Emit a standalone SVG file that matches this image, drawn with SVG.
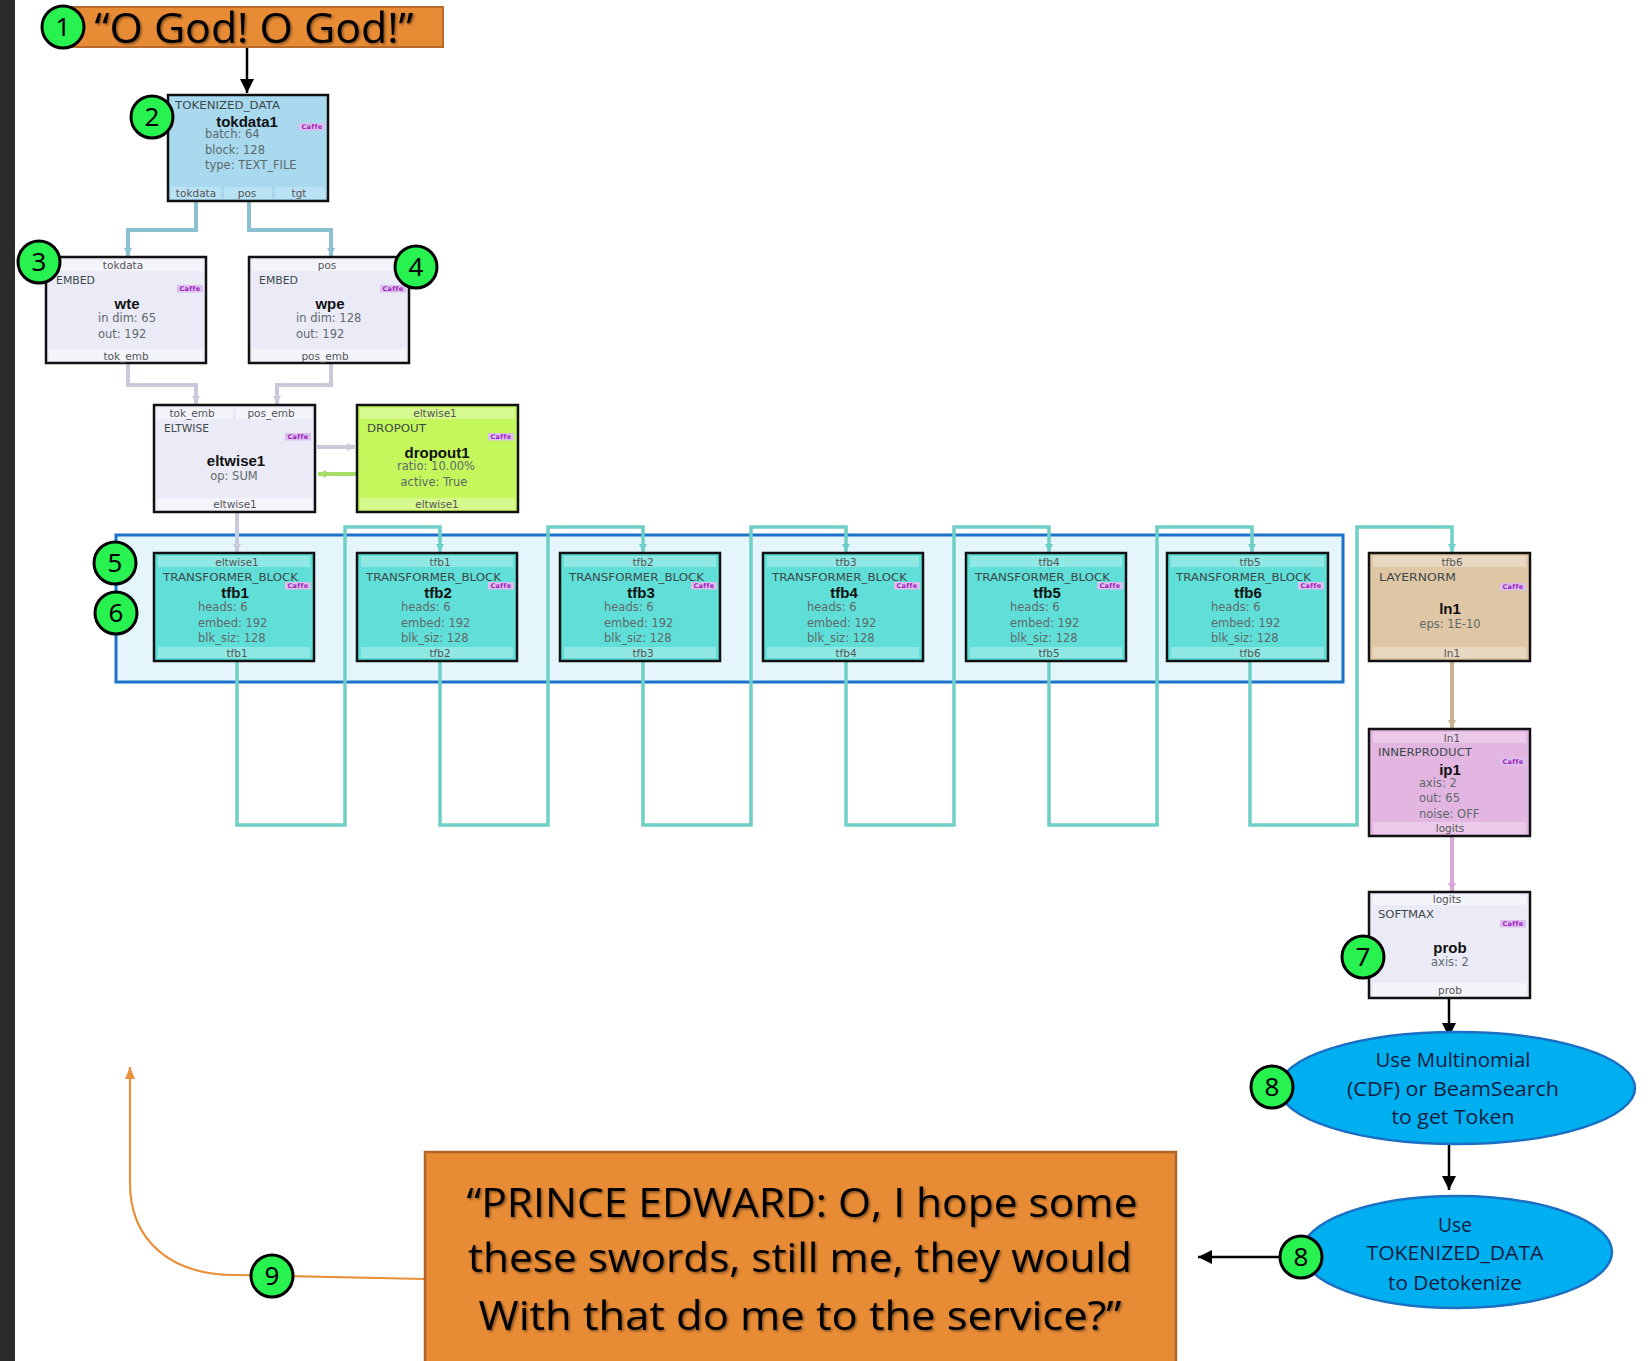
<svg xmlns="http://www.w3.org/2000/svg" width="1650" height="1361" viewBox="0 0 1650 1361">
  <style>
    .box { stroke: #111; stroke-width: 2.5; }
    .lav { fill: #ebebf8; }
    .lavband { fill: #f4f4fb; }
    .tfb { fill: #60dfd8; }
    .tfbband { fill: #8fe8e3; }
    .port { font-family: "DejaVu Sans", sans-serif; font-size: 10.5px; fill: #555; text-anchor: middle; }
    .type { font-family: "DejaVu Sans", sans-serif; font-size: 10.5px; fill: #3c4848; }
    .name { font-family: "Liberation Sans", Arial, sans-serif; font-weight: bold; font-size: 15px; fill: #111; text-anchor: middle; }
    .param { font-family: "DejaVu Sans", sans-serif; font-size: 11.5px; fill: #5e6a6a; }
    .pc { text-anchor: middle; }
    .cbg { fill: #dcc0ec; }
    .ctx { font-family: "DejaVu Sans", sans-serif; font-size: 6.5px; font-weight: bold; fill: #a020c0; text-anchor: middle; letter-spacing: 0.4px; }
    .badge circle { fill: #27f24f; stroke: #000; stroke-width: 3; }
    .badge text { font-family: "Noto Sans", "DejaVu Sans", sans-serif; font-size: 26px; fill: #000; text-anchor: middle; }
    .quote { font-family: "Open Sans", "Noto Sans", sans-serif; fill: #000; text-anchor: middle; filter: url(#soft-shadow); }
    .ell { fill: #00aff0; stroke: #1b6fc2; stroke-width: 2.5; }
    .etx { font-family: "Open Sans", "Noto Sans", sans-serif; font-size: 20px; fill: #101c40; text-anchor: middle; }
    .c-teal { fill: none; stroke: #6dcfc5; stroke-width: 3.5; }
    .c-blue { fill: none; stroke: #8bbfd2; stroke-width: 4; }
    .c-lav { fill: none; stroke: #c9c9dc; stroke-width: 4; }
    .c-green { fill: none; stroke: #a8dc68; stroke-width: 4; }
    .c-tan { fill: none; stroke: #c8b292; stroke-width: 4; }
    .c-pink { fill: none; stroke: #d8a8d8; stroke-width: 4; }
    .c-black { fill: none; stroke: #000; stroke-width: 2.5; }
    .c-orange { fill: none; stroke: #e8903a; stroke-width: 2.2; }
  </style>
  <defs>
    <filter id="soft-shadow" x="-5%" y="-20%" width="110%" height="140%">
      <feDropShadow dx="1.5" dy="1.5" stdDeviation="0.8" flood-color="#000" flood-opacity="0.45"/>
    </filter>
    <marker id="ah-black" viewBox="0 0 14 14" refX="14" refY="7" markerWidth="14" markerHeight="14" markerUnits="userSpaceOnUse" orient="auto">
      <path d="M0,0 L14,7 L0,14 z" fill="#000"/>
    </marker>
    <marker id="ah-orange" viewBox="0 0 12 12" refX="12" refY="6" markerWidth="12" markerHeight="12" markerUnits="userSpaceOnUse" orient="auto">
      <path d="M0,1 L12,6 L0,11 z" fill="#e8903a"/>
    </marker>
    <marker id="ah-teal" viewBox="0 0 8 8" refX="8" refY="4" markerWidth="8" markerHeight="8" markerUnits="userSpaceOnUse" orient="auto">
      <path d="M0,0 L8,4 L0,8 z" fill="#6dcfc5"/>
    </marker>
    <marker id="ah-blue" viewBox="0 0 8 8" refX="8" refY="4" markerWidth="8" markerHeight="8" markerUnits="userSpaceOnUse" orient="auto">
      <path d="M0,0 L8,4 L0,8 z" fill="#8bbfd2"/>
    </marker>
    <marker id="ah-lav" viewBox="0 0 8 8" refX="8" refY="4" markerWidth="8" markerHeight="8" markerUnits="userSpaceOnUse" orient="auto">
      <path d="M0,0 L8,4 L0,8 z" fill="#c9c9dc"/>
    </marker>
    <marker id="ah-green" viewBox="0 0 8 8" refX="8" refY="4" markerWidth="8" markerHeight="8" markerUnits="userSpaceOnUse" orient="auto">
      <path d="M0,0 L8,4 L0,8 z" fill="#a8dc68"/>
    </marker>
    <marker id="ah-tan" viewBox="0 0 8 8" refX="8" refY="4" markerWidth="8" markerHeight="8" markerUnits="userSpaceOnUse" orient="auto">
      <path d="M0,0 L8,4 L0,8 z" fill="#c8b292"/>
    </marker>
    <marker id="ah-pink" viewBox="0 0 8 8" refX="8" refY="4" markerWidth="8" markerHeight="8" markerUnits="userSpaceOnUse" orient="auto">
      <path d="M0,0 L8,4 L0,8 z" fill="#d8a8d8"/>
    </marker>
    <g id="caffe">
      <rect class="cbg" x="0" y="0" width="26" height="7.5"/>
      <text class="ctx" x="13" y="6.2">Caffe</text>
    </g>
  </defs>

  <!-- page background and left edge -->
  <rect x="0" y="0" width="1650" height="1361" fill="#ffffff"/>
  <rect x="0" y="0" width="15" height="1361" fill="#2b2b2b"/>

  <!-- transformer block container -->
  <g id="tfb-group">
    <rect x="116" y="535" width="1227" height="147" fill="#e5f5fc" stroke="#1b72c8" stroke-width="3"/>
  </g>

  <!-- connectors -->
  <g id="connectors">
    <path class="c-black" d="M247,47 V93" marker-end="url(#ah-black)"/>
    <path class="c-blue" d="M196,201 V230 H128 V256" marker-end="url(#ah-blue)"/>
    <path class="c-blue" d="M249,201 V230 H331 V256" marker-end="url(#ah-blue)"/>
    <path class="c-lav" d="M128,363 V385 H196 V404" marker-end="url(#ah-lav)"/>
    <path class="c-lav" d="M331,363 V385 H277 V404" marker-end="url(#ah-lav)"/>
    <path class="c-lav" d="M317,447 H355" marker-end="url(#ah-lav)"/>
    <path class="c-green" d="M356,474 H318" marker-end="url(#ah-green)"/>
    <path class="c-lav" d="M237,512 V552" marker-end="url(#ah-lav)"/>
    <path class="c-teal" d="M237,661 V825 H345 V527 H440 V552" marker-end="url(#ah-teal)"/>
    <path class="c-teal" d="M440,661 V825 H548 V527 H643 V552" marker-end="url(#ah-teal)"/>
    <path class="c-teal" d="M643,661 V825 H751 V527 H846 V552" marker-end="url(#ah-teal)"/>
    <path class="c-teal" d="M846,661 V825 H954 V527 H1049 V552" marker-end="url(#ah-teal)"/>
    <path class="c-teal" d="M1049,661 V825 H1157 V527 H1252 V552" marker-end="url(#ah-teal)"/>
    <path class="c-teal" d="M1250,661 V825 H1357 V527 H1452 V552" marker-end="url(#ah-teal)"/>
    <path class="c-tan" d="M1452,661 V728" marker-end="url(#ah-tan)"/>
    <path class="c-pink" d="M1452,836 V891" marker-end="url(#ah-pink)"/>
    <path class="c-black" d="M1449,998 V1037" marker-end="url(#ah-black)"/>
    <path class="c-black" d="M1449,1144 V1190" marker-end="url(#ah-black)"/>
    <path class="c-black" d="M1290,1257 H1198" marker-end="url(#ah-black)"/>
    <path class="c-orange" d="M425,1279 L235,1275 C170,1275 130,1240 130,1183 V1067" marker-end="url(#ah-orange)"/>
  </g>

  <!-- prompt text -->
  <g id="prompt">
    <rect x="72" y="7" width="371" height="40" fill="#e88b35" stroke="#b86a2a" stroke-width="2"/>
    <text class="quote" x="254" y="43" font-size="42" textLength="319" lengthAdjust="spacingAndGlyphs">“O God! O God!”</text>
  </g>

  <!-- data layer -->
  <g id="tokdata1" transform="translate(168,95)">
    <rect class="box" x="0" y="0" width="160" height="106" fill="#a8d9ef"/>
    <rect x="3" y="92" width="50" height="12" fill="#b9e2f4"/>
    <rect x="56" y="92" width="48" height="12" fill="#b9e2f4"/>
    <rect x="107" y="92" width="50" height="12" fill="#b9e2f4"/>
    <text class="type" x="7" y="14" textLength="105" lengthAdjust="spacingAndGlyphs">TOKENIZED_DATA</text>
    <text class="name" x="79" y="32">tokdata1</text>
    <use href="#caffe" x="131" y="28"/>
    <text class="param" x="37" y="43">batch: 64</text>
    <text class="param" x="37" y="59">block: 128</text>
    <text class="param" x="37" y="74">type: TEXT_FILE</text>
    <text class="port" x="28" y="102">tokdata</text>
    <text class="port" x="79" y="102">pos</text>
    <text class="port" x="131" y="102">tgt</text>
  </g>

  <g id="wte" transform="translate(46,257)">
    <rect class="box lav" x="0" y="0" width="160" height="106"/>
    <rect class="lavband" x="3" y="3" width="154" height="11"/>
    <rect class="lavband" x="3" y="92" width="154" height="12"/>
    <text class="port" x="77" y="12">tokdata</text>
    <text class="type" x="10" y="27" textLength="39" lengthAdjust="spacingAndGlyphs">EMBED</text>
    <use href="#caffe" x="131" y="28"/>
    <text class="name" x="81" y="52">wte</text>
    <text class="param" x="52" y="65">in dim: 65</text>
    <text class="param" x="52" y="81">out: 192</text>
    <text class="port" x="80" y="103">tok_emb</text>
  </g>

  <g id="wpe" transform="translate(249,257)">
    <rect class="box lav" x="0" y="0" width="160" height="106"/>
    <rect class="lavband" x="3" y="3" width="154" height="11"/>
    <rect class="lavband" x="3" y="92" width="154" height="12"/>
    <text class="port" x="78" y="12">pos</text>
    <text class="type" x="10" y="27" textLength="39" lengthAdjust="spacingAndGlyphs">EMBED</text>
    <use href="#caffe" x="131" y="28"/>
    <text class="name" x="81" y="52">wpe</text>
    <text class="param" x="47" y="65">in dim: 128</text>
    <text class="param" x="47" y="81">out: 192</text>
    <text class="port" x="76" y="103">pos_emb</text>
  </g>

  <g id="eltwise1" transform="translate(154,405)">
    <rect class="box lav" x="0" y="0" width="161" height="107"/>
    <rect class="lavband" x="3" y="3" width="76" height="11"/>
    <rect class="lavband" x="82" y="3" width="76" height="11"/>
    <rect class="lavband" x="3" y="93" width="155" height="12"/>
    <text class="port" x="38" y="12">tok_emb</text>
    <text class="port" x="117" y="12">pos_emb</text>
    <text class="type" x="10" y="27" textLength="45" lengthAdjust="spacingAndGlyphs">ELTWISE</text>
    <use href="#caffe" x="131" y="28"/>
    <text class="name" x="82" y="61">eltwise1</text>
    <text class="param pc" x="80" y="75">op: SUM</text>
    <text class="port" x="81" y="103">eltwise1</text>
  </g>

  <g id="dropout1" transform="translate(357,405)">
    <rect class="box" x="0" y="0" width="161" height="107" fill="#c3f75b"/>
    <rect x="3" y="3" width="155" height="11" fill="#d6fa90"/>
    <rect x="3" y="93" width="155" height="12" fill="#d6fa90"/>
    <text class="port" x="78" y="12">eltwise1</text>
    <text class="type" x="10" y="27" textLength="59" lengthAdjust="spacingAndGlyphs">DROPOUT</text>
    <use href="#caffe" x="131" y="28"/>
    <text class="name" x="80" y="53">dropout1</text>
    <text class="param pc" x="79" y="65">ratio: 10.00%</text>
    <text class="param pc" x="77" y="81">active: True</text>
    <text class="port" x="80" y="103">eltwise1</text>
  </g>

  <!-- transformer blocks -->
  <g id="tfb1" transform="translate(154,553)">
    <rect class="box tfb" x="0" y="0" width="160" height="108"/>
    <rect class="tfbband" x="4" y="3" width="152" height="11"/>
    <rect class="tfbband" x="4" y="94" width="152" height="11"/>
    <text class="port" x="83" y="13">eltwise1</text>
    <text class="type" x="9" y="28" textLength="135" lengthAdjust="spacingAndGlyphs">TRANSFORMER_BLOCK</text>
    <use href="#caffe" x="131" y="29"/>
    <text class="name" x="81" y="45">tfb1</text>
    <text class="param" x="44" y="58">heads: 6</text>
    <text class="param" x="44" y="74">embed: 192</text>
    <text class="param" x="44" y="89">blk_siz: 128</text>
    <text class="port" x="83" y="104">tfb1</text>
  </g>
  <g id="tfb2" transform="translate(357,553)">
    <rect class="box tfb" x="0" y="0" width="160" height="108"/>
    <rect class="tfbband" x="4" y="3" width="152" height="11"/>
    <rect class="tfbband" x="4" y="94" width="152" height="11"/>
    <text class="port" x="83" y="13">tfb1</text>
    <text class="type" x="9" y="28" textLength="135" lengthAdjust="spacingAndGlyphs">TRANSFORMER_BLOCK</text>
    <use href="#caffe" x="131" y="29"/>
    <text class="name" x="81" y="45">tfb2</text>
    <text class="param" x="44" y="58">heads: 6</text>
    <text class="param" x="44" y="74">embed: 192</text>
    <text class="param" x="44" y="89">blk_siz: 128</text>
    <text class="port" x="83" y="104">tfb2</text>
  </g>
  <g id="tfb3" transform="translate(560,553)">
    <rect class="box tfb" x="0" y="0" width="160" height="108"/>
    <rect class="tfbband" x="4" y="3" width="152" height="11"/>
    <rect class="tfbband" x="4" y="94" width="152" height="11"/>
    <text class="port" x="83" y="13">tfb2</text>
    <text class="type" x="9" y="28" textLength="135" lengthAdjust="spacingAndGlyphs">TRANSFORMER_BLOCK</text>
    <use href="#caffe" x="131" y="29"/>
    <text class="name" x="81" y="45">tfb3</text>
    <text class="param" x="44" y="58">heads: 6</text>
    <text class="param" x="44" y="74">embed: 192</text>
    <text class="param" x="44" y="89">blk_siz: 128</text>
    <text class="port" x="83" y="104">tfb3</text>
  </g>
  <g id="tfb4" transform="translate(763,553)">
    <rect class="box tfb" x="0" y="0" width="160" height="108"/>
    <rect class="tfbband" x="4" y="3" width="152" height="11"/>
    <rect class="tfbband" x="4" y="94" width="152" height="11"/>
    <text class="port" x="83" y="13">tfb3</text>
    <text class="type" x="9" y="28" textLength="135" lengthAdjust="spacingAndGlyphs">TRANSFORMER_BLOCK</text>
    <use href="#caffe" x="131" y="29"/>
    <text class="name" x="81" y="45">tfb4</text>
    <text class="param" x="44" y="58">heads: 6</text>
    <text class="param" x="44" y="74">embed: 192</text>
    <text class="param" x="44" y="89">blk_siz: 128</text>
    <text class="port" x="83" y="104">tfb4</text>
  </g>
  <g id="tfb5" transform="translate(966,553)">
    <rect class="box tfb" x="0" y="0" width="160" height="108"/>
    <rect class="tfbband" x="4" y="3" width="152" height="11"/>
    <rect class="tfbband" x="4" y="94" width="152" height="11"/>
    <text class="port" x="83" y="13">tfb4</text>
    <text class="type" x="9" y="28" textLength="135" lengthAdjust="spacingAndGlyphs">TRANSFORMER_BLOCK</text>
    <use href="#caffe" x="131" y="29"/>
    <text class="name" x="81" y="45">tfb5</text>
    <text class="param" x="44" y="58">heads: 6</text>
    <text class="param" x="44" y="74">embed: 192</text>
    <text class="param" x="44" y="89">blk_siz: 128</text>
    <text class="port" x="83" y="104">tfb5</text>
  </g>
  <g id="tfb6" transform="translate(1167,553)">
    <rect class="box tfb" x="0" y="0" width="161" height="108"/>
    <rect class="tfbband" x="4" y="3" width="153" height="11"/>
    <rect class="tfbband" x="4" y="94" width="153" height="11"/>
    <text class="port" x="83" y="13">tfb5</text>
    <text class="type" x="9" y="28" textLength="135" lengthAdjust="spacingAndGlyphs">TRANSFORMER_BLOCK</text>
    <use href="#caffe" x="131" y="29"/>
    <text class="name" x="81" y="45">tfb6</text>
    <text class="param" x="44" y="58">heads: 6</text>
    <text class="param" x="44" y="74">embed: 192</text>
    <text class="param" x="44" y="89">blk_siz: 128</text>
    <text class="port" x="83" y="104">tfb6</text>
  </g>

  <!-- output head -->
  <g id="ln1" transform="translate(1369,553)">
    <rect class="box" x="0" y="0" width="161" height="108" fill="#dfc6a5"/>
    <rect x="4" y="3" width="153" height="11" fill="#e9d8c1"/>
    <rect x="4" y="94" width="153" height="11" fill="#e9d8c1"/>
    <text class="port" x="83" y="13">tfb6</text>
    <text class="type" x="10" y="28" textLength="77" lengthAdjust="spacingAndGlyphs">LAYERNORM</text>
    <use href="#caffe" x="131" y="30"/>
    <text class="name" x="81" y="61">ln1</text>
    <text class="param pc" x="81" y="75">eps: 1E-10</text>
    <text class="port" x="83" y="104">ln1</text>
  </g>

  <g id="ip1" transform="translate(1369,729)">
    <rect class="box" x="0" y="0" width="161" height="107" fill="#e3b5e1"/>
    <rect x="4" y="3" width="153" height="11" fill="#eccaea"/>
    <rect x="4" y="93" width="153" height="12" fill="#eccaea"/>
    <text class="port" x="83" y="13">ln1</text>
    <text class="type" x="9" y="27" textLength="94" lengthAdjust="spacingAndGlyphs">INNERPRODUCT</text>
    <use href="#caffe" x="131" y="29"/>
    <text class="name" x="81" y="46">ip1</text>
    <text class="param" x="50" y="58">axis: 2</text>
    <text class="param" x="50" y="73">out: 65</text>
    <text class="param" x="50" y="89">noise: OFF</text>
    <text class="port" x="81" y="103">logits</text>
  </g>

  <g id="prob" transform="translate(1369,892)">
    <rect class="box lav" x="0" y="0" width="161" height="106"/>
    <rect class="lavband" x="4" y="3" width="153" height="10"/>
    <rect class="lavband" x="4" y="91" width="153" height="13"/>
    <text class="port" x="78" y="11">logits</text>
    <text class="type" x="9" y="26" textLength="56" lengthAdjust="spacingAndGlyphs">SOFTMAX</text>
    <use href="#caffe" x="131" y="28"/>
    <text class="name" x="81" y="61">prob</text>
    <text class="param pc" x="81" y="74">axis: 2</text>
    <text class="port" x="81" y="102">prob</text>
  </g>

  <g id="sample">
    <ellipse class="ell" cx="1457" cy="1088" rx="178" ry="56"/>
    <text class="etx" x="1453" y="1067" textLength="155" lengthAdjust="spacingAndGlyphs">Use Multinomial</text>
    <text class="etx" x="1453" y="1096" textLength="212" lengthAdjust="spacingAndGlyphs">(CDF) or BeamSearch</text>
    <text class="etx" x="1453" y="1124" textLength="123" lengthAdjust="spacingAndGlyphs">to get Token</text>
  </g>

  <g id="detokenize">
    <ellipse class="ell" cx="1457" cy="1252" rx="155" ry="56"/>
    <text class="etx" x="1455" y="1232" textLength="34" lengthAdjust="spacingAndGlyphs">Use</text>
    <text class="etx" x="1455" y="1260" textLength="177" lengthAdjust="spacingAndGlyphs">TOKENIZED_DATA</text>
    <text class="etx" x="1455" y="1290" textLength="134" lengthAdjust="spacingAndGlyphs">to Detokenize</text>
  </g>

  <g id="generated">
    <rect x="425" y="1152" width="751" height="215" fill="#e88b35" stroke="#b0662a" stroke-width="2.5"/>
    <text class="quote" x="802" y="1217" font-size="40" textLength="671" lengthAdjust="spacingAndGlyphs">“PRINCE EDWARD: O, I hope some</text>
    <text class="quote" x="800" y="1272" font-size="40" textLength="664" lengthAdjust="spacingAndGlyphs">these swords, still me, they would</text>
    <text class="quote" x="800" y="1330" font-size="40" textLength="643" lengthAdjust="spacingAndGlyphs">With that do me to the service?”</text>
  </g>

  <!-- step badges -->
  <g id="badges">
    <g class="badge"><circle cx="63" cy="27" r="21"/><text x="63" y="36">1</text></g>
    <g class="badge"><circle cx="152" cy="117" r="21"/><text x="152" y="126">2</text></g>
    <g class="badge"><circle cx="39" cy="262" r="21"/><text x="39" y="271">3</text></g>
    <g class="badge"><circle cx="416" cy="267" r="21"/><text x="416" y="276">4</text></g>
    <g class="badge"><circle cx="115" cy="563" r="21"/><text x="115" y="572">5</text></g>
    <g class="badge"><circle cx="116" cy="613" r="21"/><text x="116" y="622">6</text></g>
    <g class="badge"><circle cx="1363" cy="957" r="21"/><text x="1363" y="966">7</text></g>
    <g class="badge"><circle cx="1272" cy="1087" r="21"/><text x="1272" y="1096">8</text></g>
    <g class="badge"><circle cx="1301" cy="1257" r="21"/><text x="1301" y="1266">8</text></g>
    <g class="badge"><circle cx="272" cy="1276" r="21"/><text x="272" y="1285">9</text></g>
  </g>
</svg>
